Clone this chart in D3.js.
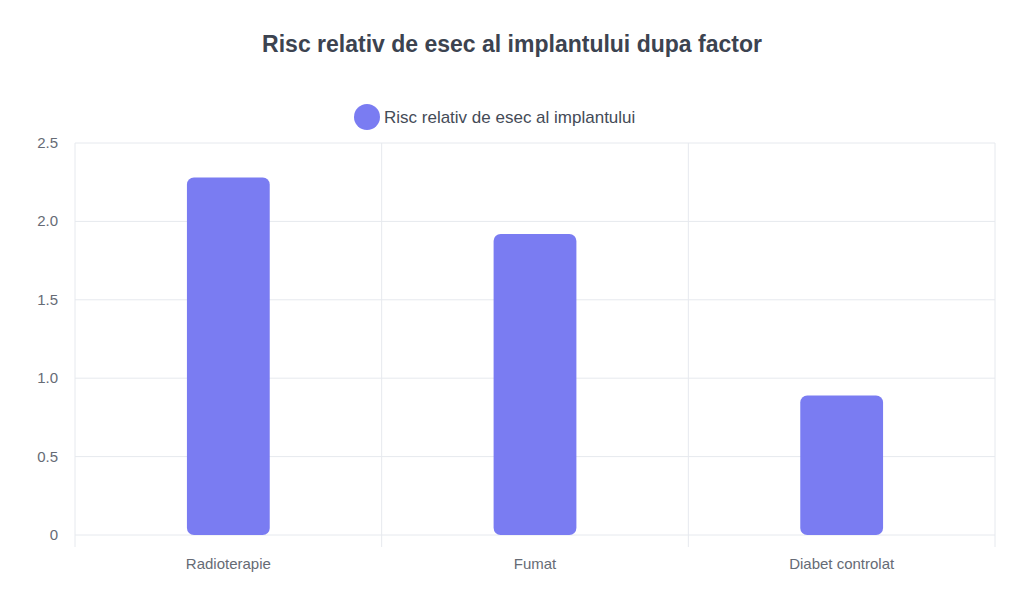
<!DOCTYPE html>
<html>
<head>
<meta charset="utf-8">
<script src="https://cdn.jsdelivr.net/npm/d3@7"></script>
<style>
  body { margin: 0; background: #fff; font-family: "Liberation Sans", Arial, sans-serif; }
</style>
</head>
<body>
<svg id="chart" width="1024" height="608"></svg>
<script>
var categories = ["Radioterapie", "Fumat", "Diabet controlat"];
var values = [2.28, 1.92, 0.89];
var yTicks = [0, 0.5, 1.0, 1.5, 2.0, 2.5];
var seriesName = "Risc relativ de esec al implantului";
var title = "Risc relativ de esec al implantului dupa factor";

var margin = { top: 143, left: 75, right: 29, bottom: 73 };
var width = 1024 - margin.left - margin.right;
var height = 608 - margin.top - margin.bottom;
var color = "#7a7cf2";

var svg = d3.select("#chart");

svg.append("text")
  .attr("x", 512).attr("y", 52)
  .attr("text-anchor", "middle")
  .style("font-size", "23px").style("font-weight", "bold")
  .style("fill", "#3c4350")
  .text(title);

var legend = svg.append("g");
legend.append("circle").attr("cx", 367).attr("cy", 117).attr("r", 13).style("fill", color);
legend.append("text").attr("x", 384).attr("y", 123)
  .style("font-size", "17px").style("fill", "#444b57").text(seriesName);

var g = svg.append("g").attr("transform", "translate(" + margin.left + "," + margin.top + ")");

var x = d3.scaleBand().domain(categories).range([0, width]);
var y = d3.scaleLinear().domain([0, 2.5]).range([height, 0]);

// horizontal grid
g.selectAll(".hgrid").data(yTicks).enter().append("line")
  .attr("x1", 0).attr("x2", width)
  .attr("y1", function(d) { return y(d); }).attr("y2", function(d) { return y(d); })
  .style("stroke", "#e6e9ee").style("stroke-width", 1);

// vertical grid at category boundaries
var bounds = categories.map(function(c) { return x(c); }).concat([width]);
g.selectAll(".vgrid").data(bounds).enter().append("line")
  .attr("x1", function(d) { return d; }).attr("x2", function(d) { return d; })
  .attr("y1", 0).attr("y2", height + 12)
  .style("stroke", "#e6e9ee").style("stroke-width", 1);

// y labels
g.selectAll(".ylab").data(yTicks).enter().append("text")
  .attr("x", -17).attr("y", function(d) { return y(d) + 5; })
  .attr("text-anchor", "end")
  .style("font-size", "15px").style("fill", "#666b75")
  .text(function(d) { return d === 0 ? "0" : d.toFixed(1); });

// x labels
g.selectAll(".xlab").data(categories).enter().append("text")
  .attr("x", function(d) { return x(d) + x.bandwidth() / 2; })
  .attr("y", height + 34)
  .attr("text-anchor", "middle")
  .style("font-size", "15px").style("fill", "#666b75")
  .text(function(d) { return d; });

var bw = x.bandwidth() * 0.27;
g.selectAll(".bar").data(values).enter().append("rect")
  .attr("x", function(d, i) { return x(categories[i]) + x.bandwidth() / 2 - bw / 2; })
  .attr("y", function(d) { return y(d); })
  .attr("width", bw)
  .attr("height", function(d) { return y(0) - y(d); })
  .attr("rx", 7)
  .style("fill", color);
</script>
</body>
</html>
